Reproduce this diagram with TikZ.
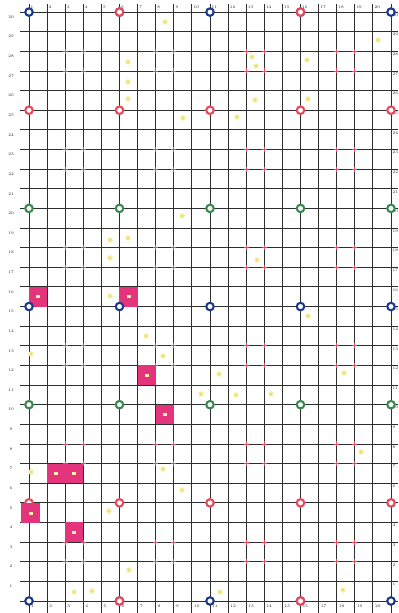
\documentclass[tikz,border=0pt]{standalone}
\definecolor{gridc}{HTML}{2E2E2E}
\definecolor{cblue}{HTML}{1C3A8C}
\definecolor{cred}{HTML}{E8485A}
\definecolor{cgreen}{HTML}{3A8A50}
\definecolor{cpink}{HTML}{E4357C}
\definecolor{ydot}{HTML}{F4EE9A}
\definecolor{ydotc}{HTML}{C2B030}
\begin{document}
\begin{tikzpicture}[x=18.1pt,y=19.63pt,
  gridline/.style={gridc, line width=0.9pt},
  ring/.style={circle, draw=#1, line width=2.1pt, fill=white, minimum size=7.5pt, inner sep=0pt},
  lbl/.style={font=\fontsize{4}{4}\selectfont, text=black!85, inner sep=0pt},
  pinkcell/.style={fill=cpink},
  cellmark/.style={fill=ydot!80!white, minimum width=4pt, minimum height=3pt, inner sep=0pt},
  redmark/.style={cred, line width=0.9pt},
  ydotnode/.style={circle, fill=ydot, minimum size=5.5pt, inner sep=0pt}]
\useasboundingbox (-1.602,-0.611) rectangle (20.387,30.616);
\fill[white] (-1.602,-0.611) rectangle (20.387,30.616);
% grid
\foreach \r in {0,...,30} \draw[gridline] (-0.5,\r) -- (20.387,\r);
\foreach \c in {0,...,20} \draw[gridline] (\c,-0.611) -- (\c,30.41);
% red corner marks
\foreach \c in {2,3,7,8,12,13,17,18}
  \foreach \r in {2,3,7,8,12,13,17,18,22,23,27,28}
    \draw[redmark] ([xshift=-2.5pt]\c,\r) -- ([xshift=2.5pt]\c,\r)
                   ([yshift=-2.5pt]\c,\r) -- ([yshift=2.5pt]\c,\r);
% labels
\foreach \k in {1,...,20} {
  \pgfmathtruncatemacro{\p}{\k-1}
  \node[lbl, anchor=west] (t\k) at ([xshift=1.5pt]\p,30.26) {\k};
  \node[lbl, anchor=west] (b\k) at ([xshift=2pt]\p,-0.26) {\k};
}
\foreach \k in {1,...,30} {
  \node[lbl] (l\k) at (-0.99,\k-0.25) {\k};
  \node[lbl, anchor=west] (r\k) at ([xshift=1.5pt]20,\k-0.15) {\k};
}
% pink cells
\foreach \c/\r [count=\i] in {0/15,5/15,6/11,7/9,1/6,2/6,2/3} {
  \fill[pinkcell] (\c,\r) rectangle (\c+1,\r+1);
  \node[cellmark] (pm\i) at (\c+0.5,\r+0.5) {};
}
% rings
\foreach \r/\col in {0/cblue,25/cred,20/cgreen,15/cblue,10/cgreen,30/cblue}
  \foreach \c in {0,5,10,15,20}
    \node[ring=\col] (ring\c-\r) at (\c,\r) {};
\foreach \c in {5,15} {
  \node[ring=cred] (ringr\c-0) at (\c,0) {};
  \node[ring=cred] (ringr\c-30) at (\c,30) {};
}
\foreach \c in {0,5,10,15,20}
  \node[ring=cred] (ring\c-5) at (\c,5) {};
% odd pink cell over ring
\fill[pinkcell] (-0.44,3.97) rectangle (0.61,5);
\node[cellmark] (pm8) at (0.085,4.48) {};
% yellow dots (pixel coordinates)
\begin{scope}[x=1pt,y=-1pt,shift={(-29pt,601pt)}]
\foreach \px/\py [count=\i] in {165/22,378/40,252/57,256/66,128/62,307/60,128/82,255/100,
  308/99,128/99,183/118,237/117,182/216,110/240,128/238,110/258,257/260,110/296,
  308/316,146/336,31/354,163/356,219/374,344/373,201/394,236/395,271/394,361/452,
  31/472,163/469,182/490,109/511,129/570,74/592,92/591,220/592,343/590} {
  \node[ydotnode] (y\i) at (\px,\py) {};
  \fill[ydotc] (y\i.center) circle (0.7pt);
}
\end{scope}
\end{tikzpicture}
\end{document}
